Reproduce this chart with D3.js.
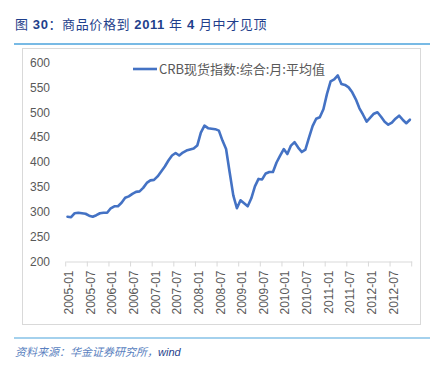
<!DOCTYPE html>
<html>
<head>
<meta charset="utf-8">
<script src="https://cdn.jsdelivr.net/npm/d3@7"></script>
<style>
  body { margin: 0; background: #fff; }
  svg { display: block; }
</style>
</head>
<body>
<div id="container"></div>
<script>
const W = 434, H = 369;

// data
const years = [2005, 2006, 2007, 2008, 2009, 2010, 2011, 2012];
const months = [];
years.forEach(y => { for (let m = 1; m <= 12; m++) months.push(y + '-' + String(m).padStart(2, '0')); });

const crb = [
  290, 289, 297, 298, 297, 296, 292, 290, 293, 297, 298, 298,
  307, 311, 311, 318, 328, 331, 336, 340, 341, 348, 358, 363,
  364, 371, 381, 391, 403, 413, 418, 413, 419, 423, 425, 427,
  433, 459, 473, 468, 467, 466, 463, 443, 426, 379, 333, 307,
  323, 317, 311, 327, 351, 366, 365, 377, 380, 380, 399, 413,
  426, 416, 433, 440, 429, 420, 425, 449, 472, 487, 490, 506,
  537, 562, 566, 574, 557, 555, 550, 540, 526, 508, 495, 481,
  489, 497, 500, 491, 481, 475, 479, 487, 493, 485, 478, 485
];

const xLabels = ['2005-01', '2005-07', '2006-01', '2006-07', '2007-01', '2007-07', '2008-01', '2008-07',
  '2009-01', '2009-07', '2010-01', '2010-07', '2011-01', '2011-07', '2012-01', '2012-07'];
const yTicks = [200, 250, 300, 350, 400, 450, 500, 550, 600];

// title pieces: [text, bold]
const titleParts = [['图 ', false], ['30', true], ['：商品价格到 ', false], ['2011', true],
  [' 年 ', false], ['4', true], [' 月中才见顶', false]];
const seriesName = 'CRB现货指数:综合:月:平均值';
const sourceText = '资料来源：华金证券研究所，';
const sourceTail = 'wind';

const svg = d3.select('#container')
  .append('svg')
  .attr('width', W)
  .attr('height', H);

const font = '"Liberation Sans", Arial, "Noto Sans CJK SC", sans-serif';
const cjk = '"Noto Sans CJK SC", "Liberation Sans", sans-serif';

// header
const t = svg.append('text')
  .attr('x', 15)
  .attr('y', 29)
  .attr('font-family', font)
  .attr('font-size', 13)
  .attr('letter-spacing', 0.6)
  .attr('fill', '#1f3f8c');
titleParts.forEach(p => {
  t.append('tspan')
    .attr('font-weight', p[1] ? 'bold' : 'normal')
    .text(p[0]);
});

svg.append('line')
  .attr('x1', 14).attr('x2', 430)
  .attr('y1', 44).attr('y2', 44)
  .attr('stroke', '#4ba3dc')
  .attr('stroke-width', 1.5);

// chart frame
svg.append('rect')
  .attr('x', 22.5).attr('y', 48.5)
  .attr('width', 398).attr('height', 276)
  .attr('fill', 'none')
  .attr('stroke', '#d9d9d9');

const x = d3.scaleBand()
  .domain(months)
  .range([65.7, 411.7])
  .padding(0);

const y = d3.scaleLinear()
  .domain([200, 600])
  .range([261.5, 62.5]);

const bw = x.bandwidth();

// y axis (labels only)
const yAxis = svg.append('g')
  .attr('transform', 'translate(52,0)')
  .call(d3.axisLeft(y).tickValues(yTicks).tickSize(0).tickPadding(2));
yAxis.select('.domain').remove();
yAxis.selectAll('text')
  .attr('font-family', font)
  .attr('font-size', 12)
  .attr('fill', '#595959');

// x axis
const xAxis = svg.append('g')
  .attr('transform', `translate(0,${y(200)})`)
  .call(d3.axisBottom(x)
    .tickValues(xLabels)
    .tickSize(5)
    .tickSizeOuter(0));
xAxis.select('.domain')
  .attr('stroke', '#d9d9d9');
xAxis.selectAll('.tick line')
  .attr('stroke', '#d9d9d9')
  .attr('transform', `translate(${-bw / 2},0)`);
xAxis.selectAll('.tick text')
  .attr('font-family', font)
  .attr('font-size', 12)
  .attr('fill', '#595959')
  .attr('text-anchor', 'end')
  .attr('transform', 'rotate(-90)')
  .attr('x', -9)
  .attr('y', 1.5)
  .attr('dy', '0.35em');
// closing tick at the end of the last category
xAxis.append('line')
  .attr('x1', x.range()[1]).attr('x2', x.range()[1])
  .attr('y1', 0).attr('y2', 5)
  .attr('stroke', '#d9d9d9');

// line
const line = d3.line()
  .x((d, i) => x(months[i]) + bw / 2)
  .y(d => y(d));

svg.append('path')
  .datum(crb)
  .attr('d', line)
  .attr('fill', 'none')
  .attr('stroke', '#4472c4')
  .attr('stroke-width', 2.6)
  .attr('stroke-linejoin', 'round')
  .attr('stroke-linecap', 'round');

// legend
svg.append('line')
  .attr('x1', 133).attr('x2', 157)
  .attr('y1', 69).attr('y2', 69)
  .attr('stroke', '#4472c4')
  .attr('stroke-width', 2.6);

svg.append('text')
  .attr('x', 159)
  .attr('y', 73.5)
  .attr('font-family', cjk)
  .attr('font-size', 13)
  .attr('fill', '#595959')
  .text(seriesName);

// footer
svg.append('line')
  .attr('x1', 14).attr('x2', 430)
  .attr('y1', 338).attr('y2', 338)
  .attr('stroke', '#4ba3dc')
  .attr('stroke-width', 1.2);

const src = svg.append('text')
  .attr('x', 15)
  .attr('y', 356)
  .attr('font-family', font)
  .attr('font-size', 11)
  .attr('font-style', 'italic');
src.append('tspan')
  .attr('fill', '#5a7fc0')
  .text(sourceText);
src.append('tspan')
  .attr('fill', '#1f3f8c')
  .text(sourceTail);
</script>
</body>
</html>
